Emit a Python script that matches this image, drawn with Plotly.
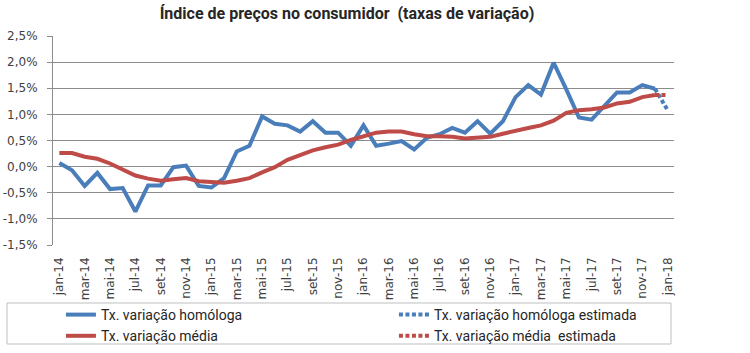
import plotly.graph_objects as go

months = ["jan", "fev", "mar", "abr", "mai", "jun", "jul", "ago", "set", "out", "nov", "dez"]
categories = [f"{m}-{y}" for y in ["14", "15", "16", "17"] for m in months] + ["jan-18"]

homologa = [0.07, -0.07, -0.37, -0.12, -0.43, -0.41, -0.86, -0.36, -0.36, -0.01, 0.02, -0.37,
            -0.40, -0.22, 0.29, 0.40, 0.96, 0.82, 0.79, 0.67, 0.87, 0.65, 0.65, 0.40,
            0.79, 0.40, 0.44, 0.49, 0.33, 0.55, 0.62, 0.74, 0.65, 0.87, 0.63, 0.87,
            1.33, 1.56, 1.38, 1.99, 1.48, 0.94, 0.90, 1.16, 1.42, 1.42, 1.56, 1.49, None]
homologa_est = [None] * 47 + [1.49, 1.08]

media = [0.26, 0.26, 0.19, 0.15, 0.06, -0.06, -0.17, -0.23, -0.27, -0.24, -0.22, -0.28,
         -0.30, -0.31, -0.27, -0.22, -0.11, -0.01, 0.13, 0.23, 0.31, 0.37, 0.42, 0.51,
         0.59, 0.65, 0.67, 0.67, 0.62, 0.58, 0.58, 0.57, 0.54, 0.56, 0.57, 0.63,
         0.69, 0.74, 0.79, 0.88, 1.03, 1.08, 1.10, 1.13, 1.21, 1.24, 1.33, 1.37, None]
media_est = [None] * 47 + [1.37, 1.37]

y_ticks = [-1.5, -1.0, -0.5, 0.0, 0.5, 1.0, 1.5, 2.0, 2.5]
y_ticktext = [f"{v:.1f}%".replace(".", ",") for v in y_ticks]

BLUE = "#4A7EBB"
RED = "#BE4B48"
GRID = "#8C8C8C"
TXT = "#404040"
NARROW = "Roboto, Lato, sans-serif"

idx = list(range(len(categories)))

fig = go.Figure()
fig.add_trace(go.Scatter(x=idx, y=homologa, mode="lines", name="Tx. variação homóloga",
                         line=dict(color=BLUE, width=4)))
fig.add_trace(go.Scatter(x=idx, y=homologa_est, mode="lines", name="Tx. variação homóloga estimada",
                         line=dict(color=BLUE, width=4, dash="4px,2.5px")))
fig.add_trace(go.Scatter(x=idx, y=media, mode="lines", name="Tx. variação média",
                         line=dict(color=RED, width=4)))
fig.add_trace(go.Scatter(x=idx, y=media_est, mode="lines", name="Tx. variação média\u00a0 estimada",
                         line=dict(color=RED, width=4, dash="4px,2.5px")))

tick_idx = idx[::2]
boundaries = [i - 0.5 for i in idx[::2]]

fig.update_layout(
    width=750, height=353,
    margin=dict(l=53, r=76, t=36, b=108, autoexpand=False),
    paper_bgcolor="white", plot_bgcolor="white",
    title=dict(text="<b>Índice de preços no consumidor\u00a0 (taxas de variação)</b>",
               x=347 / 750, xref="container", xanchor="center",
               y=1 - 13 / 353, yref="container", yanchor="middle",
               font=dict(family=NARROW, size=16, color="#262626")),
    xaxis=dict(range=[-0.5, len(categories) - 0.5], tickvals=tick_idx,
               ticktext=[categories[i] for i in tick_idx], tickangle=-90,
               showgrid=False, zeroline=False, showline=False, ticks="",
               ticklabelstandoff=9,
               tickfont=dict(family="DejaVu Sans", size=12, color=TXT)),
    xaxis2=dict(overlaying="x", anchor="free", position=1.5 / 4, side="bottom",
                range=[-0.5, len(categories) - 0.5], tickvals=boundaries,
                showticklabels=False, ticks="outside", ticklen=5, tickcolor=GRID,
                showgrid=False, zeroline=False, showline=True, linecolor=GRID, linewidth=1),
    yaxis=dict(range=[-1.5, 2.5], tickvals=y_ticks, ticktext=y_ticktext,
               showgrid=True, gridcolor=GRID, gridwidth=1, zeroline=False,
               showline=True, linecolor=GRID, linewidth=1,
               ticks="outside", ticklen=5, tickcolor=GRID, ticklabelstandoff=7,
               tickfont=dict(family="DejaVu Sans", size=12, color=TXT)),
    showlegend=True,
    legend=dict(orientation="h", x=-0.0001, xanchor="left",
                y=(245 - 299) / 209, yanchor="top",
                entrywidth=280, entrywidthmode="pixels", indentation=8,
                bgcolor="rgba(0,0,0,0)", borderwidth=0,
                font=dict(family=NARROW, size=14, color="#262626"),
                tracegroupgap=0, itemwidth=30),
    shapes=[dict(type="rect", xref="paper", yref="paper",
                 x0=(7 - 53) / 621, x1=(671 - 53) / 621,
                 y0=(245 - 303) / 209, y1=(245 - 344) / 209,
                 line=dict(color="#BFBFBF", width=1), fillcolor="rgba(0,0,0,0)")],
)

fig.write_html("out.html")
